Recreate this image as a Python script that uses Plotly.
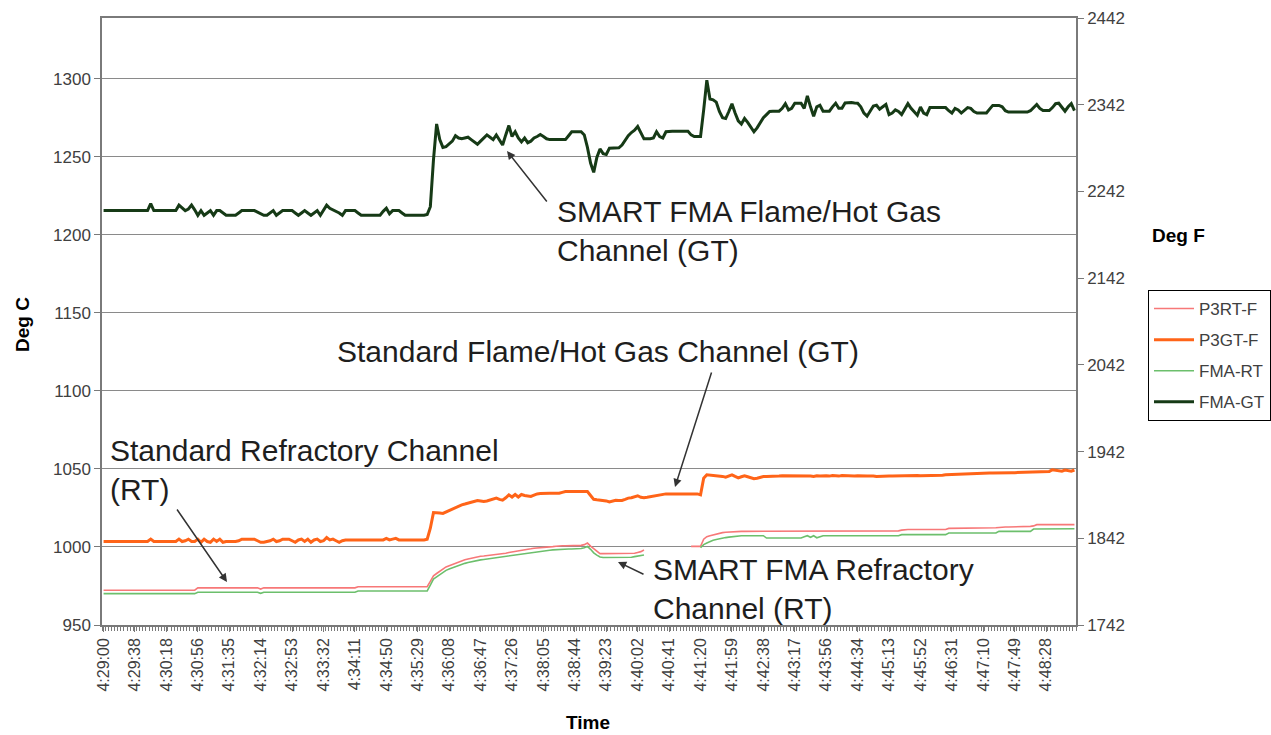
import plotly.graph_objects as go

# ---------------- data ----------------
time_labels = ["4:29:00","4:29:38","4:30:18","4:30:56","4:31:35","4:32:14","4:32:53","4:33:32",
               "4:34:11","4:34:50","4:35:29","4:36:08","4:36:47","4:37:26","4:38:05","4:38:44",
               "4:39:23","4:40:02","4:40:41","4:41:20","4:41:59","4:42:38","4:43:17","4:43:56",
               "4:44:34","4:45:13","4:45:52","4:46:31","4:47:10","4:47:49","4:48:28"]

fma_gt = [
 1215.5,1215.5,1215.5,1215.5,1215.5,1215.5,1215.5,1215.5,1215.5,1215.5,
 1215.5,1215.5,1215.5,1215.5,1215.5,1220,1215.5,1215.5,1215.5,1215.5,
 1215.5,1215.5,1215.5,1215.5,1219,1217,1215.5,1216.5,1219,1216,
 1212.5,1215.5,1212.5,1214,1215.5,1212.5,1215.5,1215.5,1214,1212.5,
 1212.5,1212.5,1212.5,1214,1215.5,1215.5,1215.5,1215.5,1215.5,1214.5,
 1213.5,1212.5,1212.5,1214,1215.5,1212.5,1214,1215.5,1215.5,1215.5,
 1215.5,1214,1212.5,1214,1215.5,1214,1212.5,1214,1215.5,1212.5,
 1215.5,1219,1217,1216,1215.5,1214,1212.5,1215.5,1215.5,1215.5,
 1215.5,1214,1212.5,1212.5,1212.5,1212.5,1212.5,1212.5,1212.5,1215,
 1217,1213.5,1215.5,1215.5,1215.5,1214,1212.5,1212.5,1212.5,1212.5,
 1212.5,1212.5,1212.5,1213,1218,1248,1271,1261,1256,1256.5,
 1258,1260,1263.5,1262,1261.5,1262,1262.5,1261,1259.5,1258,
 1260,1262,1264,1262.5,1261,1264,1261,1257.5,1264,1270,
 1263,1266,1262,1259.5,1262,1259,1260,1262,1263,1264.3,
 1263,1261.5,1261,1261,1261,1261,1261,1261,1263.5,1266,
 1266,1266,1266,1264,1256,1246,1240,1249.5,1255,1252,
 1251.5,1255.5,1255.7,1255.7,1255.7,1257.5,1260.5,1263.5,1265.5,1267,
 1269.4,1265,1261.5,1261.5,1261.5,1262,1266,1263,1262,1266,
 1266.3,1266.3,1266.3,1266.3,1266.3,1266.3,1266.3,1264,1263,1263,
 1263,1280,1299,1287,1286.5,1285,1279,1275,1274.5,1279,
 1284,1278,1273,1271,1274.5,1272,1269,1266,1268.5,1272,
 1275,1277,1279,1279.2,1279.2,1279.2,1281,1284,1280,1281,
 1284.3,1284.3,1284.3,1281,1289,1282,1276,1282,1283,1279.2,
 1279.2,1279.2,1282,1284.3,1281,1281,1284.5,1284.8,1284.8,1284.5,
 1284.3,1282,1278,1276,1279,1282.5,1283,1280.5,1282,1283.5,
 1277,1278,1280,1279,1277,1281,1284,1281,1278.5,1276.6,
 1281.9,1278,1277,1281.5,1281.5,1281.5,1281.5,1281.5,1281.5,1279.5,
 1278,1281,1280,1278,1279.5,1281.5,1281,1279,1278,1278,
 1278,1278,1280.5,1282.9,1282.9,1282.9,1282,1279.5,1278.6,1278.6,
 1278.6,1278.6,1278.6,1278.6,1278.6,1279.5,1281.5,1283.5,1281,1279.6,
 1279.6,1279.6,1281.5,1284,1284.3,1282,1279.2,1282,1284,1279.6]

p3gt_f = [
 1003.5,1003.5,1003.5,1003.5,1003.5,1003.5,1003.5,1003.5,1003.5,1003.5,
 1003.5,1003.5,1003.5,1003.5,1003.5,1005,1003.5,1003.5,1003.5,1003.5,
 1003.5,1003.5,1003.5,1003.5,1005,1003.5,1004,1005,1003.5,1003.5,
 1005,1003,1005,1003.5,1003,1005,1003.5,1005,1003,1003.5,
 1003.5,1003.5,1003.5,1004,1005,1005,1005,1005,1005,1004,
 1003,1003,1003.5,1004,1005,1003.5,1004,1005,1005,1005,
 1004,1003,1004.5,1005,1003.5,1005,1003,1004.5,1005,1003.5,
 1004,1006,1004.5,1005,1004,1003,1004,1004.5,1004.5,1004.5,
 1004.5,1004.5,1004.5,1004.5,1004.5,1004.5,1004.5,1004.5,1004.5,1004.5,
 1005.5,1004.5,1005,1005.5,1004.5,1004.5,1004.5,1004.5,1004.5,1004.5,
 1004.5,1004.5,1004.5,1005,1012,1022,1022,1021.7,1021.5,1022.5,
 1023.5,1024.5,1025.5,1026.5,1027,1027.5,1028.1,1028.5,1029.2,1029.8,
 1029.5,1029.2,1029.5,1030,1030.7,1031.3,1030.5,1030,1031.5,1033.4,
 1032,1033.6,1032,1033.6,1033,1032.5,1032.4,1033.2,1034,1034.2,
 1034.4,1034.4,1034.4,1034.4,1034.4,1034.4,1035,1035.5,1035.5,1035.5,
 1035.8,1035.8,1035.8,1035.5,1035.5,1033,1030.5,1030.2,1030,1030,
 1029.5,1028.8,1029.2,1029.9,1029.8,1029.8,1030.5,1031.3,1031.5,1032.2,
 1032.8,1031.8,1031.5,1031.8,1032.2,1032.8,1032.8,1033.2,1034,1034,
 1034,1034,1034,1034,1034,1034,1034,1034,1034,1034,
 1033.4,1044,1046.2,1046,1045.8,1045.6,1045.6,1045.2,1044.7,1045.5,
 1046.2,1045.2,1044.3,1045,1045.6,1045,1044.3,1043.7,1044,1044.6,
 1045.1,1045.1,1045.1,1045.3,1045.3,1045.4,1045.6,1045.6,1045.3,1045.6,
 1045.6,1045.4,1045.6,1045.4,1045.3,1045.4,1045.1,1045.6,1045.4,1045.6,
 1045.6,1045.4,1045.8,1045.6,1045.4,1045.8,1045.6,1045.4,1045.6,1045.4,
 1045.6,1045.4,1045.6,1045.4,1045.4,1045.5,1045.1,1045.3,1045.1,1045.4,
 1045.5,1045.4,1045.5,1045.6,1045.6,1045.8,1045.6,1045.6,1045.7,1045.8,
 1045.7,1045.7,1045.8,1045.7,1045.7,1045.8,1046,1046,1046.2,1046.3,
 1046.4,1046.5,1046.6,1046.8,1047,1047.1,1047.1,1047,1047.1,1047.2,
 1047.3,1047.4,1047.4,1047.4,1047.5,1047.5,1047.5,1047.5,1047.6,1047.6,
 1047.6,1047.7,1047.8,1047.8,1048,1048,1048,1048,1048,1048.2,
 1048.4,1048.4,1049.5,1049.2,1048.5,1048.5,1049.3,1049,1048.5,1049.3]

p3rt_f = [
 972.3,972.3,972.3,972.3,972.3,972.3,972.3,972.3,972.3,972.3,
 972.3,972.3,972.3,972.3,972.3,972.3,972.3,972.3,972.3,972.3,
 972.3,972.3,972.3,972.3,972.3,972.3,972.3,972.3,972.3,972.3,
 973.8,973.8,973.8,973.8,973.8,973.8,973.8,973.8,973.8,973.8,
 973.8,973.8,973.8,973.8,973.8,973.8,973.8,973.8,973.8,973.8,
 973,973.8,973.8,973.8,973.8,973.8,973.8,973.8,973.8,973.8,
 973.8,973.8,973.8,973.8,973.8,973.8,973.8,973.8,973.8,973.8,
 973.8,973.8,973.8,973.8,973.8,973.8,973.8,973.8,973.8,973.8,
 973.8,974.5,974.5,974.5,974.5,974.5,974.5,974.5,974.5,974.5,
 974.5,974.5,974.5,974.5,974.5,974.5,974.5,974.5,974.5,974.5,
 974.5,974.5,974.5,974.5,978,981.5,983,984.5,986.2,987.2,
 988,988.8,989.8,990.6,991.2,991.8,992.3,992.8,993.2,993.6,
 994,994.2,994.4,994.8,995,995.3,995.5,995.8,996,996.4,
 996.7,997,997.2,997.6,998,998.4,998.8,999.2,999.3,999.5,
 999.7,999.9,999.9,1000.2,1000.5,1000.8,1000.8,1000.8,1000.8,1000.8,
 1000.8,1000.8,1001,1001.5,1002.5,1000.5,998.7,997,995.7,995.7,
 995.7,995.7,995.7,995.7,995.7,995.7,995.7,995.7,995.7,996,
 996.5,997,998,None,None,None,None,None,None,None,
 None,None,None,None,None,None,None,1000.4,1000.4,1000.4,
 1000.4,1005,1006.6,1007.2,1007.8,1008.2,1008.6,1009.2,1009.4,1009.6,
 1009.6,1009.8,1010,1010,1010,1010,1010,1010,1010,1010,
 1010,1010,1010,1010,1010,1010,1010,1010,1010,1010,
 1010,1010,1010,1010,1010,1010,1010,1010,1010,1010,
 1010,1010,1010,1010,1010,1010,1010,1010,1010,1010,
 1010,1010,1010,1010,1010,1010,1010,1010,1010,1010,
 1010,1010,1010,1010.3,1010.8,1011.2,1011.2,1011.2,1011.2,1011.2,
 1011.2,1011.2,1011.2,1011.2,1011.2,1011.2,1011.2,1011.2,1011.2,1011.9,
 1011.9,1011.9,1011.9,1011.9,1011.9,1011.9,1011.9,1011.9,1011.9,1011.9,
 1011.9,1012,1012,1012.2,1012.3,1012.5,1012.8,1012.8,1012.8,1012.8,
 1012.8,1012.8,1012.8,1013,1013,1013.2,1013.5,1014.3,1014.3,1014.3,
 1014.3,1014.3,1014.3,1014.3,1014.3,1014.3,1014.3,1014.3,1014.3,1014.3]

fma_rt = [
 970.1,970.1,970.1,970.1,970.1,970.1,970.1,970.1,970.1,970.1,
 970.1,970.1,970.1,970.1,970.1,970.1,970.1,970.1,970.1,970.1,
 970.1,970.1,970.1,970.1,970.1,970.1,970.1,970.1,970.1,970.1,
 971,971,971,971,971,971,971,971,971,971,
 971,971,971,971,971,971,971,971,971,971,
 970.3,971,971,971,971,971,971,971,971,971,
 971,971,971,971,971,971,971,971,971,971,
 971,971,971,971,971,971,971,971,971,971,
 971,971.8,971.8,971.8,971.8,971.8,971.8,971.8,971.8,971.8,
 971.8,971.8,971.8,971.8,971.8,971.8,971.8,971.8,971.8,971.8,
 971.8,971.8,971.8,971.8,975.5,979.4,980.8,982.3,984,985,
 985.8,986.6,987.4,988.2,988.9,989.5,990,990.5,990.9,991.3,
 991.7,992,992.3,992.6,992.9,993.2,993.4,993.7,994,994.3,
 994.6,994.9,995.1,995.4,995.8,996.1,996.5,996.8,997.1,997.4,
 997.6,997.8,997.9,998.1,998.3,998.5,998.7,998.7,998.7,998.7,
 998.7,998.7,999,999.5,1000.4,998.5,996.2,994.8,993.6,993.2,
 993.2,993.2,993.2,993.2,993.2,993.4,993.4,993.4,993.4,993.8,
 994.2,994.6,994.9,None,None,None,None,None,None,None,
 None,None,None,None,None,None,None,None,None,None,
 999.6,1001.5,1002.5,1003.6,1004.3,1004.8,1005.3,1005.7,1006,1006.3,
 1006.6,1006.9,1007.2,1007.2,1007.2,1007.2,1007.2,1007.2,1007.2,1007.2,
 1007.2,1005.7,1005.7,1005.7,1005.7,1005.7,1005.7,1005.7,1005.7,1005.7,
 1005.7,1005.7,1005.7,1006.5,1007.2,1006.2,1007.2,1005.9,1006.5,1007.2,
 1007.2,1007.2,1007.2,1007.2,1007.2,1007.2,1007.2,1007.2,1007.2,1007.2,
 1007.2,1007.2,1007.2,1007.2,1007.2,1007.2,1007.2,1007.2,1007.2,1007.2,
 1007.2,1007.2,1007.2,1007.2,1007.9,1007.9,1007.9,1007.9,1007.9,1007.9,
 1007.9,1007.9,1007.9,1007.9,1007.9,1007.9,1007.9,1007.9,1007.9,1008.9,
 1008.9,1008.9,1008.9,1008.9,1008.9,1008.9,1008.9,1008.9,1008.9,1008.9,
 1008.9,1008.9,1008.9,1008.9,1008.9,1010,1010,1010,1010,1010,
 1010,1010,1010,1010,1010,1010,1011.5,1011.5,1011.5,1011.5,
 1011.5,1011.5,1011.6,1011.6,1011.7,1011.7,1011.7,1011.7,1011.7,1011.7]

left_ticks = [950, 1000, 1050, 1100, 1150, 1200, 1250, 1300]
right_ticks = [1742, 1842, 1942, 2042, 2142, 2242, 2342, 2442]

# ---------------- figure ----------------
W, H = 1271, 735
ML, MR, MT, MB = 102, 195, 18, 110
PW, PH = W - ML - MR, H - MT - MB

def xp(px):
    return (px - ML) / PW

def yp(py):
    return (H - MB - py) / PH

FONT = "Liberation Sans, Arial, sans-serif"
n = len(fma_gt)
sample = list(range(n))

fig = go.Figure()
series = [
    ("P3RT-F", p3rt_f, "#F77878", 1.6),
    ("P3GT-F", p3gt_f, "#FF6418", 3.0),
    ("FMA-RT", fma_rt, "#6CBF6C", 1.6),
    ("FMA-GT", fma_gt, "#163A16", 3.0),
]
for name, vals, col, w in series:
    fig.add_trace(go.Scatter(x=sample, y=vals, name=name, mode="lines",
                             line=dict(color=col, width=w), legendgroup=name,
                             connectgaps=False))

# invisible trace to carry the Fahrenheit axis
fig.add_trace(go.Scatter(x=sample, y=[None if v is None else v * 1.8 + 32 for v in fma_gt],
                         yaxis="y2", mode="lines", line=dict(width=0), opacity=0,
                         showlegend=False, hoverinfo="skip"))

axcol = "#7A7A7A"
fig.update_layout(
    width=W, height=H,
    margin=dict(l=ML, r=MR, t=MT, b=MB, autoexpand=False),
    paper_bgcolor="white", plot_bgcolor="white",
    font=dict(family=FONT, color="#404040"),
    showlegend=True,
    legend=dict(x=xp(1148), y=yp(290), xanchor="left", yanchor="top",
                bordercolor="#000000", borderwidth=1, bgcolor="white",
                font=dict(size=17, color="#404040", family=FONT),
                tracegroupgap=6, itemwidth=40),
    xaxis=dict(range=[-0.5, n - 0.5], tickmode="array",
               tickvals=[i * 10 for i in range(len(time_labels))], ticktext=time_labels,
               tickangle=-90, ticks="outside", ticklen=5, tickcolor=axcol,
               showline=True, linecolor=axcol, linewidth=1.5, mirror=True,
               showgrid=False, zeroline=False,
               tickfont=dict(size=16, color="#404040"),
               minor=dict(ticks="outside", ticklen=4, tickmode="linear", tick0=0.5, dtick=1,
                          tickcolor=axcol, showgrid=False)),
    yaxis=dict(range=[950, 1338.9], tickmode="array", tickvals=left_ticks,
               ticks="outside", ticklen=6, tickcolor=axcol,
               showline=True, linecolor=axcol, linewidth=1.5,
               showgrid=True, gridcolor="#8A8A8A", gridwidth=1.2, zeroline=False,
               tickfont=dict(size=17, color="#404040")),
    yaxis2=dict(range=[1742, 2442], overlaying="y", side="right", tickmode="array",
                tickvals=right_ticks, ticks="outside", ticklen=6, tickcolor=axcol,
                showline=True, linecolor=axcol, linewidth=1.5, showgrid=False,
                zeroline=False, tickfont=dict(size=17, color="#404040")),
)

annots = []
# axis titles
annots.append(dict(text="<b>Deg C</b>", x=xp(22), y=yp(325), xref="paper", yref="paper",
                   xanchor="center", yanchor="middle",
                   showarrow=False, textangle=-90, font=dict(size=19, color="#000000")))
annots.append(dict(text="<b>Deg F</b>", x=xp(1178), y=yp(235), xref="paper", yref="paper",
                   xanchor="center", yanchor="middle",
                   showarrow=False, font=dict(size=19, color="#000000")))
annots.append(dict(text="<b>Time</b>", x=xp(588), y=yp(722), xref="paper", yref="paper",
                   xanchor="center", yanchor="middle",
                   showarrow=False, font=dict(size=19, color="#000000")))

# callout texts
txtfont = dict(size=30, color="#1E1E1E", family=FONT)
callouts = [
    ("SMART FMA Flame/Hot Gas<br>Channel (GT)", 555, 231),
    ("Standard Flame/Hot Gas Channel (GT)", 335, 352),
    ("Standard Refractory Channel<br>(RT)", 108, 470),
    ("SMART FMA Refractory<br>Channel (RT)", 651, 589),
]
for t, px, py in callouts:
    annots.append(dict(text=t, x=xp(px), y=yp(py), xref="paper", yref="paper",
                       xanchor="left", yanchor="middle", align="left",
                       showarrow=False, font=txtfont))

# arrows: (head_x, head_y, tail_x, tail_y) in pixels
arrows = [(507, 151, 548, 203), (675, 487, 712, 371), (227, 582, 176, 508), (618, 562, 645, 575)]
for hx, hy, tx, ty in arrows:
    annots.append(dict(text="", x=xp(hx), y=yp(hy), xref="paper", yref="paper",
                       showarrow=True, ax=tx - hx, ay=ty - hy, arrowhead=2, arrowsize=1.1,
                       arrowwidth=1.5, arrowcolor="#333333", standoff=0, startstandoff=0))

fig.update_layout(annotations=annots)

fig.write_html("out.html", config={"displayModeBar": False},
               post_script="document.body.style.margin='0px';document.body.style.overflow='hidden';")
